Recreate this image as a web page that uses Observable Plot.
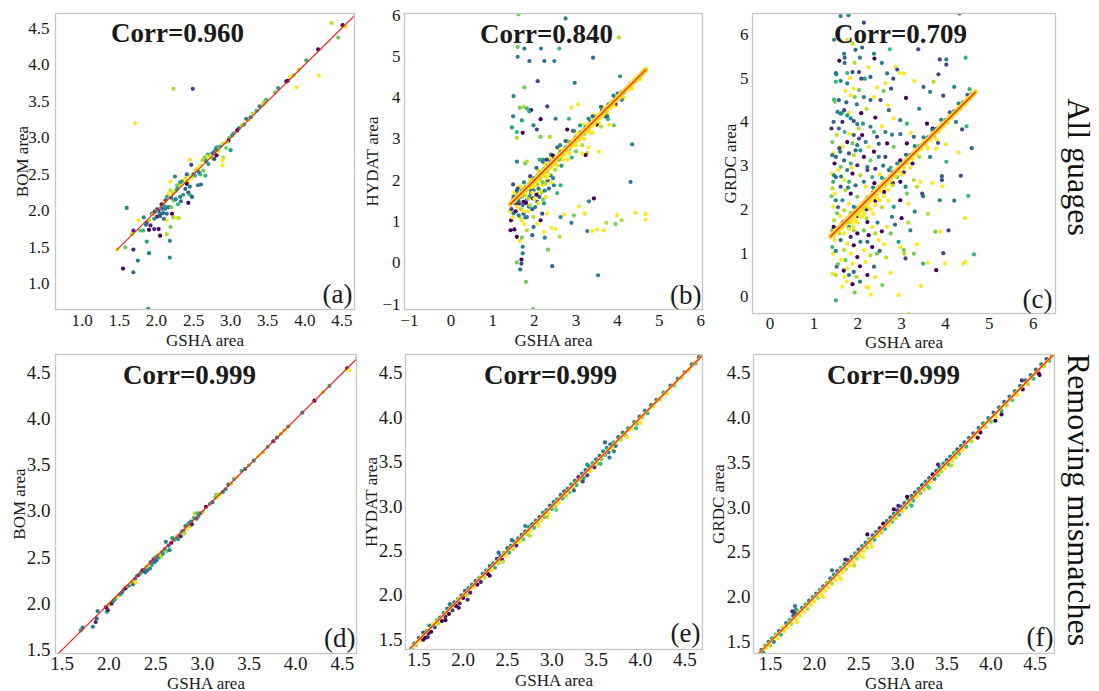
<!DOCTYPE html>
<html><head><meta charset="utf-8">
<script src="https://cdn.jsdelivr.net/npm/d3@7"></script>
<script src="https://cdn.jsdelivr.net/npm/@observablehq/plot@0.6"></script>
<style>
body{margin:0;background:#fff;}
#wrap{position:relative;width:1099px;height:691px;overflow:hidden;font-family:'Liberation Serif','Times New Roman',serif;background:#fff;}
#wrap svg{position:absolute;}
.side{position:absolute;font-size:32px;line-height:36px;white-space:nowrap;writing-mode:vertical-rl;text-orientation:sideways;transform:translateY(-50%);color:#111;}
</style></head><body><div id="wrap"></div>
<script>
// ---- tick labels ----
const ticksA = [1.0,1.5,2.0,2.5,3.0,3.5,4.0,4.5];
const ticksB = [-1,0,1,2,3,4,5,6];
const ticksC = [0,1,2,3,4,5,6];
const ticksD = [1.5,2.0,2.5,3.0,3.5,4.0,4.5];
// ---- 1:1 reference line extents ----
const lineA = [1.47,4.68], lineB = [1.42,4.68], lineC = [1.38,4.68];
const lineD = [1.43,4.68], lineE = [1.40,4.71], lineF = [1.36,4.71];
// ---- titles ----
const corrs = ["Corr=0.960","Corr=0.840","Corr=0.709","Corr=0.999","Corr=0.999","Corr=0.999"];
const letters = ["(a)","(b)","(c)","(d)","(e)","(f)"];
const yNames = ["BOM area","HYDAT area","GRDC area","BOM area","HYDAT area","GRDC area"];
const xName = "GSHA area";
const rowNames = ["All guages","Removing mismatches"];
// ---- points: [GSHA area, gauge area, colour value 0-9] ----
const aPts = [[4.36,4.57,8],[4.51,4.54,0],[4.55,4.52,9],[4.45,4.37,7],[4.18,4.21,0],[4.19,3.85,9],[3.89,3.69,9],[4.02,4.06,6],[3.92,3.93,8],[3.75,3.77,1],[3.77,3.78,0],[3.80,3.83,9],[3.85,3.86,8],[3.64,3.68,5],[3.60,3.62,7],[3.48,3.52,6],[3.46,3.49,7],[3.44,3.46,8],[3.39,3.43,4],[3.35,3.37,6],[3.30,3.33,8],[3.27,3.28,4],[3.24,3.24,9],[3.21,3.26,4],[3.18,3.18,5],[3.15,3.17,8],[3.11,3.13,4],[3.09,3.10,0],[3.04,3.06,6],[3.02,3.03,5],[2.98,3.00,7],[2.97,2.96,0],[2.95,2.94,8],
[3.00,2.83,5],[2.94,2.86,7],[2.90,2.92,8],[2.90,2.73,8],[2.89,2.69,9],[2.89,2.62,9],[2.86,2.88,6],[2.84,2.82,9],[2.81,2.87,6],[2.80,2.84,4],[2.77,2.80,4],[2.75,2.72,8],[2.73,2.77,1],[2.72,2.76,9],[2.69,2.77,6],[2.68,2.74,9],[2.65,2.73,7],[2.64,2.70,8],[2.62,2.69,8],[2.81,2.76,0],[2.78,2.71,2],[2.70,2.64,5],[2.67,2.68,4],[2.60,2.62,9],[2.58,2.60,9],[2.55,2.57,9],[2.53,2.55,8],[2.50,2.50,3],[2.52,2.48,6],[2.47,2.63,2],[2.45,2.70,9],[2.59,2.50,6],[2.63,2.55,7],[2.66,2.48,6],[2.57,2.53,4],[2.56,2.35,4],[2.60,2.36,3],[2.48,2.45,9],[2.46,2.47,8],[2.41,2.50,3],[2.43,2.40,9],[2.39,2.44,8],[2.38,2.42,9],[2.36,2.41,9],[2.34,2.40,5],[2.33,2.37,9],[2.32,2.39,5],[2.30,2.34,8],[2.28,2.35,7],[2.25,2.47,4],[2.41,2.37,0],[2.45,2.33,4],[2.39,2.30,3],[2.43,2.25,2],[2.45,2.22,6],[2.48,2.19,3],[2.43,2.11,0],[2.32,2.19,4],[2.28,2.30,5],[2.26,2.27,6],[2.24,2.25,9],[2.22,2.23,8],[2.19,2.28,8],[2.16,2.23,9],[2.14,2.19,6],[2.12,2.14,2],[2.10,2.11,9],[2.07,2.09,1],[2.19,2.40,9],[2.23,2.14,7],[2.26,2.16,4],[2.29,2.09,6],[2.33,2.13,3],[2.36,2.22,5],[2.20,2.18,3],[2.16,2.05,3],[2.12,2.03,4],[2.08,2.03,3],[2.03,2.00,3],[2.01,2.02,1],[1.98,1.99,0],[1.94,1.96,2],[1.97,1.89,5],[2.01,1.92,1],[2.05,1.96,4],[2.09,1.97,3],[2.14,1.96,3],[2.21,1.96,0],[2.23,1.91,7],[2.26,1.91,9],[2.30,1.90,8],[2.14,1.87,9],[2.10,1.89,4],[2.05,1.93,2],[1.87,1.84,2],[1.83,1.91,4],[1.90,1.87,8],[1.92,1.80,1],[1.86,1.81,3],[1.78,1.73,7],[1.82,1.73,6],[1.76,1.87,9],[1.69,1.73,1],[1.67,1.68,8],[1.60,2.04,4],[1.90,1.74,0],[1.97,1.75,1],[2.03,1.75,0],[2.05,1.66,0],[2.14,1.68,8],[2.19,1.78,7],[2.18,1.59,4],[1.87,1.58,5],[1.90,1.42,4],[1.58,1.50,7],[1.69,1.47,1],[1.47,1.47,9],[1.75,1.32,4],[2.18,1.36,4],[1.55,1.21,0],[1.69,1.16,3],[1.89,0.66,4],[2.20,2.05,7],[2.11,2.06,5],[1.95,1.95,8],[2.00,2.00,6],[2.23,3.67,8],[2.49,3.67,2],[1.71,3.20,9]];

const bPts = [[1.62,6.02,7],[2.75,5.92,4],[4.03,5.46,8],[1.60,5.23,7],[1.76,5.19,4],[2.16,5.19,4],[2.60,5.19,6],[1.60,4.99,4],[1.88,4.89,3],[2.24,4.89,3],[2.48,4.89,4],[3.41,4.97,3],[2.08,4.40,2],[2.97,4.36,4],[1.76,4.25,7],[4.06,4.52,5],[1.50,4.04,4],[1.65,3.76,7],[1.74,3.78,8],[1.82,3.74,6],[1.92,3.70,0],[1.88,3.67,5],[2.31,3.79,2],[2.89,3.76,9],[3.05,3.84,9],[1.49,3.55,4],[1.70,3.45,5],[2.15,3.48,0],[2.51,3.49,4],[2.83,3.49,6],[3.77,3.48,6],[3.91,3.33,7],[1.46,3.28,5],[1.58,3.17,6],[1.58,3.03,8],[1.72,3.15,0],[1.98,3.33,4],[2.06,3.23,2],[2.15,3.05,7],[2.37,3.05,8],[2.79,3.23,0],[2.93,3.20,1],[4.35,2.87,4],[1.58,2.45,4],[1.78,2.41,7],[1.82,2.45,8],[2.12,2.50,6],[2.21,2.50,5],[4.31,1.96,4],[3.55,2.69,9],[3.27,2.66,8],[3.23,2.61,0],
[1.49,1.90,2],[1.60,1.68,5],[1.55,1.44,3],[1.41,1.25,9],[1.44,1.03,0],[1.43,0.79,0],[1.52,0.81,0],[1.58,0.63,0],[1.65,0.53,9],[1.70,0.61,7],[1.72,0.39,4],[1.72,0.23,4],[1.58,0.01,7],[1.69,0.08,0],[1.69,-0.02,2],[1.66,-0.16,4],[1.80,-0.46,7],[1.97,-1.12,7],[2.43,-0.08,3],[2.33,0.32,7],[3.53,-0.30,4],[1.95,0.67,3],[1.82,0.79,8],[1.98,0.87,3],[2.23,0.75,9],[2.25,0.61,4],[2.41,0.85,9],[2.51,0.82,9],[2.61,0.63,8],[2.63,1.11,4],[2.72,1.17,9],[2.89,0.97,4],[2.95,1.15,7],[3.07,1.36,9],[3.21,1.19,9],[3.31,1.49,4],[3.43,1.56,0],[3.27,0.77,4],[3.39,0.77,9],[3.51,0.81,9],[3.67,0.79,9],[3.73,0.97,8],[3.95,0.94,7],[3.99,1.15,9],[4.10,1.03,8],[4.43,1.21,9],[4.67,1.18,9],[4.67,1.05,9],[2.19,1.19,2],[2.23,1.44,5],[2.15,1.03,0],[2.07,0.95,9],[1.98,1.11,8],[1.82,1.11,3],[1.74,1.19,2],[1.87,1.36,4],[1.97,1.56,0],[2.07,1.48,3],[1.70,1.03,9],[1.65,1.11,8],[1.76,0.94,9],[2.31,1.19,9],[2.21,1.53,7],[2.47,1.88,4],[2.55,1.69,6],[2.63,1.88,6],[2.39,2.12,4],[2.32,2.00,2],[1.63,1.44,1],[1.74,1.48,0],[1.67,1.60,4],[1.82,1.52,3],[1.92,1.68,4],[1.79,1.76,2],[1.88,1.84,5],[1.98,1.76,4],[2.07,1.68,8],[2.15,1.76,9],[2.19,1.88,9],[2.27,1.92,8],
[1.45,1.30,2],[1.50,1.20,4],[1.48,1.10,9],[1.55,1.25,0],[1.60,1.35,9],[1.62,1.15,4],[1.68,1.30,8],[1.72,1.40,3],[1.75,1.25,9],[1.78,1.10,4],[1.80,1.45,0],[1.85,1.25,9],[1.88,1.60,4],[1.90,1.40,8],[1.95,1.30,3],[2.00,1.55,9],[2.02,1.35,4],[2.05,1.65,0],[2.10,1.45,9],[2.12,1.60,2],[2.18,1.70,8],[2.25,1.75,4],[2.28,1.60,9],[2.35,1.80,3],[2.40,1.95,9],[2.45,2.05,4],[1.52,1.70,9],[1.58,1.75,3],[1.65,1.85,9],[1.70,1.62,0],[1.80,1.65,9],[1.92,1.75,3],[2.00,1.85,9],[2.08,1.90,8],[2.15,2.00,9],[2.25,2.10,8],[2.35,2.15,9],[2.55,2.35,9],[2.70,2.50,9],[2.85,2.65,9],[3.00,2.85,9],[3.20,3.00,9],[3.35,3.15,9],[3.55,3.40,9],[3.75,3.62,9],[3.95,3.80,9],[4.15,4.00,9],[4.35,4.22,9],[4.55,4.45,9],[2.25,2.40,9],[2.40,2.55,9],[2.60,2.75,9],[2.80,2.95,8],[3.00,3.15,9],[3.20,3.35,9],[3.45,3.58,9],[3.65,3.78,9],[1.50,1.62,9],[1.70,1.82,9],[1.90,2.00,9],[2.10,2.22,9],
[2.40,2.62,4],[2.55,2.80,3],[2.62,2.85,4],[2.75,2.95,3],[2.95,3.20,4],[3.10,3.33,5],[3.30,3.49,4],[3.40,3.55,3],[3.60,3.78,3],[3.90,4.05,4],[4.00,4.10,3],[3.00,2.70,7],[3.15,2.85,8],[3.40,3.15,9],[3.60,3.30,8],[3.75,3.55,4],[2.65,2.35,5],[2.80,2.50,9],[2.50,2.25,8],[2.30,2.05,9],[2.20,1.95,7],[2.10,1.80,4],[1.95,1.70,9],[1.85,1.55,8],[3.15,2.65,9],[3.30,2.80,9],[3.80,3.35,9],[2.90,2.55,6],[2.45,2.60,0],[2.30,2.50,1],[2.20,2.45,4],[2.05,2.30,3],[1.90,2.10,2],[1.75,1.95,4],[1.60,1.80,2],[1.50,1.60,3],[3.50,3.35,0],[3.70,3.55,2],[3.95,3.85,1],[4.10,3.95,4],
[1.45,1.45,9],[1.48,1.52,7],[1.52,1.50,9],[1.55,1.60,4],[1.58,1.55,9],[1.60,1.64,8],[1.62,1.50,3],[1.65,1.68,9],[1.68,1.62,9],[1.70,1.75,6],[1.72,1.70,9],[1.75,1.78,9],[1.76,1.65,8],[1.78,1.72,9],[1.80,1.84,4],[1.82,1.78,9],[1.84,1.88,9],[1.86,1.80,8],[1.88,1.92,7],[1.90,1.86,9],[1.92,1.95,9],[1.94,1.84,9],[1.96,2.00,8],[1.98,1.90,9],[2.00,2.05,4],[2.02,1.97,9],[2.04,2.07,9],[2.06,1.98,9],[2.08,2.12,6],[2.10,2.04,9],[2.12,2.15,9],[2.14,2.05,8],[2.16,2.20,4],[2.18,2.12,9],[2.20,2.24,9],[2.22,2.14,9],[2.24,2.28,7],[2.26,2.18,9],[2.28,2.32,9],[2.30,2.22,8],[2.32,2.36,5],[2.34,2.27,9],[2.36,2.40,9],[2.38,2.30,9],[2.40,2.46,4],[2.42,2.35,9],[2.44,2.48,9],[2.46,2.38,9],[2.48,2.55,3],[2.50,2.44,8],[2.53,2.57,9],[2.56,2.48,9],[2.58,2.62,9],[2.60,2.50,7],[2.63,2.68,4],[2.66,2.58,9],[2.69,2.72,9],[2.72,2.62,9],[2.75,2.80,5],[2.78,2.70,9],[2.81,2.85,9],[2.84,2.76,8],[2.87,2.92,4],[2.90,2.82,9],[2.93,2.97,9],[2.96,2.85,9],[2.99,3.04,6],[3.02,2.95,9],[3.05,3.10,9],[3.08,2.98,9],[3.11,3.16,4],[3.14,3.05,9],[3.17,3.22,9],[3.20,3.12,8],[3.23,3.28,5],[3.26,3.18,9],[3.29,3.33,9],[3.32,3.22,9],[3.35,3.42,4],[3.38,3.30,9],[3.41,3.46,9],[3.44,3.36,9],[3.47,3.52,3],[3.50,3.42,9],[3.54,3.58,9],[3.58,3.50,9],[3.62,3.68,4],[3.66,3.58,9],[3.70,3.75,9],[3.74,3.66,8],[3.78,3.84,5],[3.82,3.74,9],[3.86,3.90,9],[3.90,3.82,9],[3.94,4.00,4],[3.98,3.92,9],[4.02,4.06,9],[4.06,4.00,9],[4.10,4.14,6],[4.15,4.10,9],[4.20,4.22,9],[4.25,4.20,9],[4.30,4.33,7],[4.35,4.30,9],[4.40,4.42,9],[4.45,4.41,9],[4.50,4.52,8],[4.55,4.52,9],[4.60,4.62,9],[4.65,4.64,7],[4.68,4.70,9]];

const cPts = [[1.61,6.42,4],[1.79,6.44,4],[2.14,6.27,2],[1.46,5.88,4],[1.76,5.88,9],[1.88,5.79,8],[2.37,5.56,4],[2.38,5.45,0],[2.73,5.66,6],[3.38,5.66,2],[4.32,6.48,2],[3.87,5.43,2],[4.02,5.43,4],[4.02,5.31,2],[4.46,5.47,6],
[1.69,5.56,4],[1.70,5.47,3],[1.70,5.35,3],[1.93,5.35,8],[2.05,5.47,4],[1.50,5.12,3],[1.51,5.09,4],[1.76,5.12,6],[1.88,5.14,2],[2.03,5.14,2],[2.08,4.99,2],[2.16,4.99,5],[2.29,5.03,3],[2.67,5.11,4],[2.86,5.26,9],[2.90,5.20,2],[2.96,5.12,9],[3.06,5.11,9],[2.81,4.99,2],[2.63,4.89,9],[2.44,4.79,9],[2.59,4.71,7],[2.76,4.76,2],[3.29,4.94,9],[3.73,4.92,8],[3.65,4.69,4],[3.84,5.09,2],
[1.50,4.92,6],[1.61,4.94,4],[1.76,4.88,4],[1.91,4.76,9],[2.03,4.73,7],[1.72,4.71,9],[1.84,4.61,9],[1.93,4.57,7],[2.14,4.57,4],[1.46,4.51,6],[1.48,4.46,7],[1.57,4.50,3],[2.37,4.57,9],[2.29,4.50,3],[2.52,4.50,2],[2.69,4.38,9],[1.80,4.21,9],[1.65,4.21,6],[1.54,4.23,4],
[1.40,3.85,1],[1.42,3.54,7],[1.44,3.28,9],[1.42,3.24,4],[1.50,3.20,3],[1.41,2.82,9],[1.46,2.78,4],[1.50,2.74,3],[1.44,2.63,6],[1.42,2.48,8],[1.48,2.36,9],[1.50,2.21,4],[1.44,2.06,9],[1.53,1.91,7],[1.46,1.75,8],[1.42,1.52,7],[1.48,1.30,9],[1.42,1.14,6],[1.44,0.99,9],[1.42,0.53,9],[1.50,0.50,8],[1.52,0.69,3],[1.65,0.23,9],[1.50,-0.08,6],
[1.61,4.19,4],[1.69,4.27,2],[1.76,4.15,5],[1.84,4.08,4],[1.91,4.02,2],[1.99,3.95,4],[1.65,4.00,1],[1.57,3.85,3],[1.70,3.77,6],[1.82,3.73,9],[1.91,3.70,3],[2.03,3.62,2],[2.10,3.70,0],[2.18,3.54,4],[1.76,3.54,0],[1.88,3.51,7],[1.99,3.47,4],[1.65,3.43,9],[1.60,3.32,4],[1.80,3.28,2],[1.91,3.24,8],[2.06,3.35,5],[2.14,3.20,0],[1.69,3.12,3],[1.84,3.05,6],[1.99,3.01,1],[1.61,2.97,7],[1.76,2.90,4],[1.88,2.82,0],[2.06,2.78,8],[2.22,2.90,2],[1.69,2.67,9],[1.80,2.63,6],[1.95,2.55,3],[2.14,2.63,4],[1.61,2.52,2],[1.72,2.44,8],[1.84,2.36,0],[1.99,2.29,7],[1.65,2.21,5],[1.80,2.13,9],[1.91,2.06,4],[1.69,1.98,8],[1.84,1.91,7],[1.76,1.79,3],[1.95,1.71,9],[1.65,1.68,0],[1.80,1.60,5],[1.91,1.52,8],[1.69,1.45,9],[1.84,1.37,1],[1.99,1.45,0],[1.61,1.30,3],[1.76,1.22,9],[1.91,1.18,0],[2.06,1.26,4],[1.69,1.07,8],[1.84,0.99,9],[1.99,0.91,0],[1.72,0.84,7],[1.88,0.76,9],[1.76,0.65,9],[1.91,0.57,3],[2.05,0.70,0],[1.80,0.50,4],[1.88,0.29,0],[1.69,0.46,9],[1.97,0.46,8],
[2.12,3.96,5],[2.29,3.89,4],[2.37,3.77,6],[2.44,3.66,2],[2.25,3.43,9],[2.37,3.32,0],[2.48,3.20,4],[2.29,3.12,7],[2.22,2.97,3],[2.40,2.93,1],[2.33,2.74,6],[2.18,2.52,9],[2.10,1.83,9],[2.22,1.71,0],[2.33,1.60,9],[2.14,1.52,7],[2.25,1.41,0],[2.40,1.45,8],[2.48,1.30,9],[2.22,1.26,3],[2.33,1.14,0],[2.14,1.07,9],[2.29,0.95,8],[2.44,0.99,7],[2.18,0.80,9],[2.37,0.69,3],[2.22,0.50,0],[2.20,0.23,9],[2.24,0.21,9],[2.56,0.27,7],
[2.71,4.27,3],[2.82,4.08,9],[2.97,4.04,4],[3.12,3.96,6],[2.63,3.77,4],[2.78,3.71,4],[2.97,3.72,4],[3.21,3.75,9],[3.28,3.66,3],[2.67,3.51,0],[2.82,3.43,7],[2.63,3.20,2],[3.12,3.51,0],[2.97,3.12,0],[2.71,2.90,3],[2.90,2.74,7],[2.97,2.63,0],[3.09,2.52,4],[3.28,2.67,8],[3.35,2.52,8],[3.43,2.63,9],[3.49,2.30,4],[3.12,2.36,7],[3.16,2.13,9],[2.97,2.21,0],[2.82,2.06,5],[2.78,1.83,4],[2.67,1.60,9],[3.20,1.52,4],[2.75,1.45,7],[2.93,1.26,5],[2.97,1.14,9],[3.06,0.99,8],[3.09,0.88,2],[3.05,1.07,7],[3.28,0.99,7],[3.49,0.76,6],[3.60,0.78,9],[2.93,0.04,9],[3.16,-0.38,9],[3.44,0.25,9],[3.79,0.61,0],[3.77,1.49,7],[3.88,1.49,9],[4.07,1.52,2],[3.99,0.76,9],[4.41,0.76,9],[4.46,0.80,9],[4.65,0.97,6],[4.52,2.31,6],[3.87,2.21,4],[3.92,2.67,2],[3.92,2.76,3],[3.93,2.53,9],[4.35,2.77,2],[4.02,3.09,6],[3.79,3.39,9],[4.01,3.49,9],[4.38,3.83,2],[3.58,3.96,0],[3.71,3.85,0],[3.83,3.52,2],[4.24,4.00,4],[4.48,3.90,6],[3.65,3.20,4],[3.47,2.36,2],
[1.45,4.00,3],[1.52,3.70,8],[1.58,3.40,2],[1.47,3.05,0],[1.55,2.90,9],[1.62,2.75,4],[1.40,2.30,7],[1.55,2.05,3],[1.60,1.85,9],[1.45,1.60,0],[1.58,1.45,8],[1.50,1.05,4],[1.62,0.85,9],[1.55,0.75,7],[1.68,0.60,0],[1.78,2.50,4],[1.86,2.95,9],[1.95,3.35,3],[2.02,3.85,8],[2.08,4.20,0],[1.74,4.45,3],[1.98,4.40,4],[2.20,4.30,8],[2.40,4.10,0],[2.55,3.90,9],[2.48,3.50,3],[2.58,3.00,4],[2.50,2.80,9],[2.38,2.60,0],[2.62,2.55,7],[2.45,1.70,4],[2.55,1.50,0],[2.60,1.20,9],[2.50,1.05,3],[2.65,0.90,8],[2.40,0.45,9],[2.05,0.35,4],[1.75,0.35,9],[1.93,0.10,7],[2.30,0.05,9],[2.75,0.55,9],[2.85,1.65,3],[2.70,2.20,9],[3.00,1.80,0],[3.15,1.70,8],[3.30,1.95,4],[3.35,1.20,9],[3.60,1.90,8],[3.70,2.60,9],[3.40,4.30,4],[3.10,4.55,0],[3.50,4.80,3],[3.95,4.60,2],[4.20,4.80,4],[4.55,4.75,6],[4.60,3.40,3],[4.30,3.30,9],[4.20,2.20,4],[4.45,1.80,9],[3.95,1.00,2],[1.95,5.65,3],[2.25,5.25,9],[2.55,5.35,4],[1.58,5.40,0],[1.82,5.00,9],[2.10,5.70,3],
[2.90,3.05,4],[3.10,3.25,3],[3.30,3.45,4],[3.50,3.65,4],[3.70,3.82,3],[3.90,4.05,4],[4.10,4.22,3],[4.30,4.42,4],[4.50,4.62,3],[2.60,2.40,0],[2.80,2.60,0],[3.05,2.85,1],[3.25,3.05,0],[2.40,2.20,0],[2.20,2.00,1],[2.00,1.85,0],[2.35,2.50,4],[2.55,2.72,5],[2.75,2.95,6],
[1.80,1.55,9],[1.90,1.60,9],[2.00,1.70,9],[2.05,1.85,9],[2.15,1.90,9],[2.20,1.80,8],[2.30,2.00,9],[2.35,1.90,9],[2.40,2.10,9],[2.50,2.20,9],[2.55,2.05,8],[2.60,2.30,9],[1.95,1.75,9],[2.10,1.95,9],[2.25,2.05,9],[1.85,1.70,9],[2.45,2.25,9],[2.70,2.45,9],[2.80,2.55,8],[3.00,2.80,9],[3.20,2.95,9],[3.40,3.20,8],[3.60,3.40,9],[3.80,3.60,9],
[1.38,1.40,9],[1.42,1.45,9],[1.45,1.40,8],[1.48,1.52,9],[1.52,1.48,9],[1.55,1.58,6],[1.58,1.52,9],[1.62,1.66,9],[1.65,1.58,9],[1.68,1.72,4],[1.72,1.65,9],[1.75,1.78,9],[1.78,1.70,8],[1.82,1.86,9],[1.85,1.76,9],[1.88,1.92,7],[1.90,1.82,9],[1.93,1.97,9],[1.96,1.88,9],[1.99,2.03,4],[2.02,1.92,9],[2.05,2.08,9],[2.08,1.98,9],[2.11,2.15,9],[2.14,2.04,8],[2.17,2.21,9],[2.20,2.10,9],[2.23,2.27,6],[2.26,2.16,9],[2.29,2.33,9],[2.32,2.22,9],[2.35,2.39,4],[2.38,2.28,9],[2.41,2.45,9],[2.44,2.34,9],[2.48,2.52,8],[2.52,2.42,9],[2.56,2.60,9],[2.60,2.50,9],[2.64,2.68,6],[2.68,2.58,9],[2.72,2.76,9],[2.76,2.66,9],[2.80,2.85,4],[2.85,2.76,9],[2.90,2.94,9],[2.95,2.86,9],[3.00,3.05,7],[3.05,2.96,9],[3.10,3.14,9],[3.15,3.06,9],[3.20,3.25,4],[3.25,3.16,9],[3.30,3.34,9],[3.35,3.27,9],[3.40,3.45,6],[3.45,3.38,9],[3.50,3.54,9],[3.55,3.48,9],[3.60,3.65,4],[3.65,3.58,9],[3.70,3.74,9],[3.75,3.68,8],[3.80,3.85,4],[3.85,3.78,9],[3.90,3.94,9],[3.95,3.88,9],[4.00,4.05,6],[4.05,3.98,9],[4.10,4.14,9],[4.15,4.10,9],[4.20,4.25,4],[4.25,4.20,9],[4.30,4.34,9],[4.35,4.30,9],[4.40,4.45,6],[4.45,4.40,9],[4.50,4.54,9],[4.55,4.52,9],[4.60,4.65,7],[4.65,4.62,9],[4.68,4.70,9]];

const dPts = [[1.70,1.71,5],[1.72,1.74,4],[1.83,1.75,4],[1.86,1.80,1],[1.87,1.84,3],[1.88,1.92,4],[1.97,1.96,0],[1.98,1.91,6],[1.99,1.93,1],[2.00,1.99,8],[2.02,2.01,9],[2.03,2.00,1],[2.05,2.03,4],[2.07,2.05,6],[2.10,2.08,9],[2.12,2.10,5],[2.14,2.12,3],[2.16,2.15,4],[2.18,2.17,0],[2.20,2.19,7],[2.22,2.20,4],[2.23,2.22,9],[2.25,2.24,8],[2.26,2.21,4],[2.28,2.27,3],[2.29,2.23,9],[2.30,2.30,5],[2.32,2.31,2],[2.34,2.33,6],[2.36,2.36,0],[2.38,2.37,4],[2.39,2.34,3],[2.40,2.40,8],[2.41,2.36,4],[2.43,2.43,9],[2.44,2.38,4],[2.45,2.45,3],[2.46,2.42,5],[2.48,2.48,1],[2.49,2.45,4],[2.50,2.50,6],[2.51,2.47,3],[2.52,2.52,7],[2.54,2.50,4],[2.55,2.55,9],[2.56,2.51,8],[2.57,2.56,6],[2.58,2.54,5],[2.60,2.59,4],[2.61,2.67,4],[2.62,2.57,7],[2.64,2.63,3],[2.65,2.58,4],[2.67,2.66,0],[2.68,2.71,5],[2.70,2.69,6],[2.72,2.72,8],[2.74,2.70,4],[2.75,2.74,7],[2.77,2.73,1],[2.78,2.78,6],[2.80,2.79,4],[2.81,2.76,8],[2.82,2.84,4],[2.84,2.81,9],[2.85,2.87,6],[2.87,2.84,8],[2.88,2.89,4],[2.89,2.86,1],[2.91,2.93,6],[2.92,2.98,8],[2.94,2.92,4],[2.96,2.95,5],[2.98,2.98,3],[3.01,3.00,8],[3.04,3.05,0],[3.08,3.08,6],[3.11,3.10,4],[3.14,3.15,7],[3.15,3.18,7],[3.17,3.16,9],[3.19,3.19,8],[3.22,3.21,4],[3.25,3.24,5],[3.28,3.29,3],[3.31,3.30,8],[3.34,3.35,6],[3.37,3.37,9],[3.42,3.44,6],[3.46,3.46,4],[3.50,3.50,7],[3.55,3.55,5],[3.60,3.60,9],[3.65,3.64,8],[3.70,3.70,6],[3.76,3.76,1],[3.80,3.80,4],[3.84,3.84,8],[3.88,3.88,9],[3.92,3.92,6],[4.07,4.07,5],[4.20,4.20,0],[4.29,4.29,8],[4.36,4.36,6],[4.55,4.55,0],[4.57,4.53,9],[4.66,4.67,8],[2.95,2.98,6]];

const ePts = [[1.42,1.40,7],[1.45,1.46,4],[1.47,1.44,8],[1.50,1.52,3],[1.52,1.49,9],[1.55,1.58,2],[1.57,1.52,0],[1.59,1.60,6],[1.61,1.57,1],[1.62,1.66,4],[1.64,1.59,0],[1.66,1.68,9],[1.68,1.64,2],[1.70,1.72,7],[1.72,1.68,8],[1.74,1.75,4],[1.76,1.71,0],[1.78,1.80,5],[1.80,1.76,1],[1.82,1.85,4],[1.84,1.79,0],[1.86,1.88,6],[1.88,1.83,2],[1.90,1.92,3],[1.92,1.88,0],[1.94,1.96,7],[1.96,1.91,1],[1.98,2.00,4],[2.00,1.97,0],[2.02,2.05,3],[2.04,2.00,8],[2.06,2.08,5],[2.08,2.03,1],[2.10,2.12,4],[2.12,2.09,9],[2.14,2.16,3],[2.16,2.12,0],[2.18,2.20,7],[2.20,2.15,1],[2.22,2.24,4],[2.24,2.20,8],[2.26,2.28,5],[2.28,2.24,0],[2.30,2.33,3],[2.32,2.28,9],[2.34,2.36,4],[2.36,2.31,6],[2.38,2.41,2],[2.40,2.36,8],[2.42,2.44,4],[2.44,2.40,0],[2.46,2.48,7],[2.48,2.44,9],[2.50,2.53,3],[2.52,2.48,6],[2.54,2.56,4],[2.56,2.52,8],[2.58,2.60,5],[2.60,2.56,1],[2.62,2.64,4],[2.64,2.60,9],[2.66,2.68,3],[2.68,2.63,7],[2.70,2.72,4],[2.72,2.69,8],[2.74,2.77,5],[2.76,2.72,9],[2.78,2.80,3],[2.80,2.76,6],[2.82,2.84,4],[2.84,2.81,8],[2.86,2.88,2],[2.88,2.84,9],[2.90,2.93,5],[2.92,2.88,7],[2.94,2.96,4],[2.96,2.92,9],[2.98,3.01,3],[3.00,2.97,6],[3.02,3.05,4],[3.04,3.00,8],[3.06,3.08,5],[3.08,3.04,9],[3.10,3.13,4],[3.12,3.09,6],[3.14,3.17,3],[3.16,3.12,8],[3.18,3.20,4],[3.20,3.16,7],[3.22,3.25,5],[3.24,3.20,9],[3.26,3.29,4],[3.28,3.24,6],[3.30,3.33,1],[3.32,3.29,8],[3.34,3.37,4],[3.36,3.32,5],[3.38,3.41,3],[3.40,3.35,2],[3.42,3.45,4],[3.44,3.40,9],[3.46,3.49,6],[3.48,3.44,1],[3.50,3.53,4],[3.52,3.48,8],[3.54,3.57,3],[3.56,3.53,7],[3.58,3.62,4],[3.60,3.58,6],[3.62,3.66,5],[3.64,3.61,3],[3.66,3.70,4],[3.68,3.65,9],[3.70,3.72,6],[3.72,3.68,4],[3.75,3.78,3],[3.78,3.75,8],[3.80,3.83,4],[3.83,3.80,7],[3.86,3.88,5],[3.90,3.87,9],[3.93,3.95,4],[3.96,3.93,7],[3.99,4.01,3],[4.02,4.00,8],[4.05,4.08,4],[4.08,4.05,6],[4.12,4.14,3],[4.15,4.13,9],[4.18,4.20,4],[4.22,4.20,8],[4.26,4.28,5],[4.30,4.27,9],[4.34,4.36,3],[4.38,4.36,7],[4.42,4.44,4],[4.46,4.45,8],[4.50,4.51,3],[4.54,4.53,9],[4.58,4.60,4],[4.62,4.61,6],[4.66,4.68,3],[4.69,4.70,7],
[3.65,3.55,4],[3.60,3.72,3],[3.70,3.62,4],[3.35,3.28,2],[3.25,3.18,3],[3.05,2.96,7],[2.40,2.48,3],[2.45,2.38,8],[2.30,2.22,0],[1.85,1.90,4],[1.80,1.72,0],[1.95,1.86,0],[2.05,1.95,1],[1.60,1.53,1],[1.55,1.50,0],[4.00,3.94,9],[3.85,3.78,9],[3.95,3.88,6],[2.75,2.67,8],[2.85,2.78,9],[2.95,2.88,8],[2.55,2.62,3],[2.70,2.78,4],[3.40,3.47,5],[3.55,3.48,6]];

const fPts = [[1.38,1.37,4],[1.40,1.41,3],[1.42,1.38,4],[1.44,1.46,7],[1.46,1.43,9],[1.48,1.50,4],[1.50,1.46,8],[1.52,1.54,5],[1.54,1.50,4],[1.56,1.58,7],[1.58,1.54,9],[1.60,1.62,3],[1.62,1.58,6],[1.64,1.66,8],[1.66,1.62,9],[1.68,1.71,4],[1.70,1.66,9],[1.72,1.75,6],[1.74,1.70,8],[1.76,1.79,3],[1.78,1.82,2],[1.79,1.86,5],[1.80,1.75,9],[1.82,1.84,7],[1.84,1.79,9],[1.86,1.88,4],[1.88,1.83,9],[1.90,1.92,6],[1.92,1.87,8],[1.94,1.96,3],[1.96,1.91,9],[1.98,2.00,5],[2.00,1.95,9],[2.02,2.04,4],[2.04,1.99,8],[2.06,2.08,6],[2.08,2.03,9],[2.10,2.12,3],[2.12,2.07,9],[2.14,2.16,7],[2.16,2.11,9],[2.18,2.21,4],[2.20,2.15,8],[2.22,2.25,5],[2.24,2.19,9],[2.26,2.29,3],[2.28,2.23,9],[2.30,2.33,6],[2.32,2.27,9],[2.34,2.37,4],[2.36,2.31,8],[2.38,2.41,2],[2.40,2.35,9],[2.42,2.45,4],[2.44,2.39,9],[2.46,2.49,6],[2.48,2.43,8],[2.50,2.53,3],[2.52,2.47,9],[2.54,2.57,5],[2.56,2.51,9],[2.58,2.61,4],[2.60,2.55,8],[2.62,2.65,7],[2.64,2.60,9],[2.66,2.69,3],[2.68,2.64,6],[2.70,2.73,4],[2.72,2.68,9],[2.74,2.77,1],[2.76,2.72,8],[2.78,2.82,0],[2.80,2.76,6],[2.82,2.85,4],[2.84,2.80,9],[2.86,2.89,3],[2.88,2.84,7],[2.90,2.93,4],[2.92,2.88,8],[2.94,2.97,2],[2.96,2.92,6],[2.98,3.01,4],[3.00,2.96,9],[3.02,3.05,3],[3.04,3.00,7],[3.06,3.09,5],[3.08,3.04,8],[3.10,3.13,4],[3.12,3.08,6],[3.14,3.17,3],[3.16,3.12,9],[3.18,3.21,4],[3.20,3.16,7],[3.22,3.25,2],[3.24,3.20,8],[3.26,3.29,4],[3.28,3.24,6],[3.30,3.33,3],[3.32,3.28,9],[3.34,3.37,0],[3.36,3.32,4],[3.38,3.41,3],[3.40,3.36,7],[3.42,3.45,4],[3.44,3.40,8],[3.46,3.49,5],[3.48,3.44,9],[3.50,3.53,3],[3.52,3.48,6],[3.54,3.57,4],[3.56,3.52,9],[3.58,3.61,6],[3.60,3.56,8],[3.62,3.65,3],[3.64,3.60,7],[3.66,3.69,4],[3.68,3.64,9],[3.70,3.73,2],[3.72,3.68,6],[3.75,3.78,4],[3.78,3.74,8],[3.80,3.83,3],[3.83,3.79,9],[3.86,3.89,4],[3.88,3.84,0],[3.91,3.94,5],[3.94,3.90,8],[3.97,4.00,4],[4.00,3.96,7],[4.03,4.06,3],[4.06,4.02,9],[4.09,4.12,4],[4.12,4.08,6],[4.15,4.18,3],[4.18,4.14,8],[4.21,4.24,4],[4.24,4.20,7],[4.27,4.30,5],[4.30,4.26,9],[4.33,4.36,4],[4.36,4.32,0],[4.39,4.42,3],[4.42,4.38,8],[4.45,4.48,4],[4.48,4.44,6],[4.51,4.54,3],[4.54,4.50,0],[4.57,4.60,4],[4.60,4.58,8],[4.63,4.66,2],[4.66,4.64,6],[4.69,4.70,4],
[2.60,2.70,0],[2.90,2.98,0],[2.95,3.02,1],[3.05,3.12,0],[3.40,3.48,1],[3.85,3.78,0],[4.05,3.97,0],[4.12,4.04,0],[4.35,4.42,1],[4.55,4.48,0],[2.35,2.42,1],[2.20,2.30,3],[1.78,1.90,4],[1.75,1.84,1],[1.80,1.72,9],[2.10,2.00,9],[2.30,2.20,9],[2.45,2.35,8],[2.55,2.45,9],[2.65,2.56,9],[3.10,3.02,6],[3.30,3.22,7],[3.55,3.47,8]];

// ---- panel layout (pixel boxes only) ----
const layout = [
  {data:aPts, line:lineA, ticks:ticksA, fmt:".1f", xd:[0.64,4.67], yd:[0.65,4.70], left:0,   top:0,   w:370, h:350, mL:55, mR:16, mT:13, mB:41, tdx:122, tdy:28, ldx:-2, ldy:-7, ylx:-28, tf:17, xPad:4, yPad:6, xly:36, halo:0},
  {data:bPts, line:lineB, ticks:ticksB, fmt:"d",   xd:[-1.12,6.04], yd:[-1.13,6.04], left:355, top:0, w:355, h:350, mL:49, mR:8, mT:13, mB:41, tdx:142, tdy:29, ldx:-1, ldy:-6, ylx:-27, tf:17, xPad:4, yPad:4, xly:36, halo:5},
  {data:cPts, line:lineC, ticks:ticksC, fmt:"d",   xd:[-0.40,6.51], yd:[-0.38,6.48], left:700, top:0, w:365, h:350, mL:52, mR:10, mT:13, mB:37, tdx:148, tdy:29, ldx:-3, ldy:-6, ylx:-17, tf:17, xPad:3, yPad:4, xly:34, halo:5},
  {data:dPts, line:lineD, ticks:ticksD, fmt:".1f", xd:[1.43,4.65], yd:[1.46,4.70], left:0,   top:340, w:370, h:351, mL:55, mR:14, mT:14, mB:38, tdx:134, tdy:29, ldx:-1, ldy:-7, ylx:-31, tf:19, xPad:3, yPad:5, xly:35, halo:0},
  {data:ePts, line:lineE, ticks:ticksD, fmt:".1f", xd:[1.35,4.70], yd:[1.39,4.71], left:355, top:340, w:355, h:351, mL:50, mR:8, mT:14, mB:42, tdx:145, tdy:29, ldx:-2, ldy:-8, ylx:-29, tf:19, xPad:3, yPad:3, xly:36, halo:2.5},
  {data:fPts, line:lineF, ticks:ticksD, fmt:".1f", xd:[1.31,4.72], yd:[1.37,4.71], left:700, top:340, w:365, h:351, mL:53, mR:11, mT:14, mB:38, tdx:140, tdy:29, ldx:-1, ldy:-8, ylx:-30, tf:19, xPad:3, yPad:3, xly:35, halo:2.5}
];

const wrap = document.getElementById("wrap");
layout.forEach((p, i) => {
  const pts = p.data.map(([x, y, c]) => ({x, y, c}));
  const marks = [
    Plot.dot(pts, {x: "x", y: "y", fill: "c", r: 2.1, clip: true})
  ];
  if (p.halo) marks.push(Plot.line(p.line, {x: d => d, y: d => d, stroke: "#fbd524", strokeWidth: p.halo, clip: true}));
  marks.push(
    Plot.line(p.line, {x: d => d, y: d => d, stroke: "#ff1f1f", strokeWidth: 1.2, clip: true}),
    Plot.frame({stroke: "#c6c6c6", strokeWidth: 1.3}),
    Plot.axisX(p.ticks, {tickSize: 0, tickPadding: p.xPad, tickFormat: p.fmt, fontSize: p.tf, label: null}),
    Plot.axisY(p.ticks, {tickSize: 0, tickPadding: p.yPad, tickFormat: p.fmt, fontSize: p.tf, label: null}),
    Plot.text([corrs[i]], {text: d => d, frameAnchor: "top-left", dx: p.tdx, dy: p.tdy, textAnchor: "middle", lineAnchor: "bottom", fontSize: 27, fontWeight: "bold"}),
    Plot.text([letters[i]], {text: d => d, frameAnchor: "bottom-right", dx: p.ldx, dy: p.ldy, textAnchor: "end", lineAnchor: "bottom", fontSize: 27}),
    Plot.text([xName], {text: d => d, frameAnchor: "bottom", dy: p.xly, textAnchor: "middle", lineAnchor: "bottom", fontSize: 17}),
    Plot.text([yNames[i]], {text: d => d, frameAnchor: "left", dx: p.ylx, rotate: -90, textAnchor: "middle", lineAnchor: "bottom", fontSize: 17})
  );
  const svg = Plot.plot({
    width: p.w, height: p.h,
    marginLeft: p.mL, marginRight: p.mR, marginTop: p.mT, marginBottom: p.mB,
    x: {domain: p.xd}, y: {domain: p.yd},
    color: {type: "linear", scheme: "viridis", domain: [0, 9]},
    style: {fontFamily: "'Liberation Serif','Times New Roman',serif", color: "#1a1a1a", background: "transparent", overflow: "visible"},
    marks
  });
  svg.style.left = p.left + "px";
  svg.style.top = p.top + "px";
  wrap.appendChild(svg);
});

const sideY = [167, 500];
rowNames.forEach((t, i) => {
  const d = document.createElement("div");
  d.className = "side";
  d.textContent = t;
  d.style.left = "1061px";
  d.style.top = sideY[i] + "px";
  wrap.appendChild(d);
});
</script></body></html>
